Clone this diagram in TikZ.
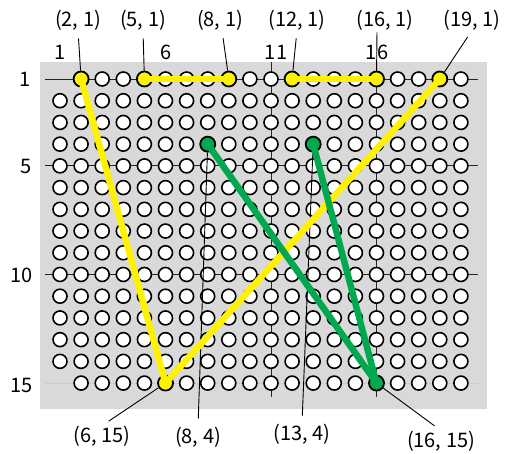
\documentclass[tikz,border=0pt]{standalone}
\usepackage{fontspec}
\setmainfont{Noto Sans CJK JP}
\definecolor{bgray}{RGB}{217,217,217}
\definecolor{wgreen}{RGB}{0,168,80}
\begin{document}
\begin{tikzpicture}[x=1pt,y=-1pt,
  hole/.style={circle,draw=black,fill=white,line width=1.6pt,minimum size=14pt,inner sep=0pt},
  ydot/.style={circle,draw=black,fill=yellow,line width=1.8pt,minimum size=15pt,inner sep=0pt},
  gdot/.style={circle,draw=black,fill=wgreen,line width=1.8pt,minimum size=15pt,inner sep=0pt},
  ywire/.style={draw=yellow,line width=6.5pt,line join=round},
  gwire/.style={draw=wgreen,line width=6.5pt,line join=round},
  lead/.style={draw=black,line width=0.9pt,shorten <=8pt},
  gridln/.style={draw=black!85,line width=0.8pt},
  faintln/.style={draw=black!20,line width=0.8pt},
  lbl/.style={font=\fontsize{20}{20}\selectfont,inner sep=0pt}]
\useasboundingbox (0,0) rectangle (509,454);
% coordinates of the holes
\foreach \r in {1,...,15}{
  \foreach \c in {1,...,20}{
    \coordinate (p\c-\r) at ({60+(\c-1)*21.1},{79+(\r-1)*21.72});
  }
}
% board
\fill[bgray] (40,62) rectangle (487,409);
% grid lines
\draw[gridln] ([xshift=-15pt]p1-1) -- ([xshift=17pt]p20-1);
\draw[gridln] ([xshift=-15pt]p1-5) -- ([xshift=17pt]p20-5);
\draw[gridln] ([xshift=-15pt]p1-10) -- ([xshift=17pt]p20-10);
\draw[faintln] ([xshift=-15pt]p1-15) -- ([xshift=17pt]p20-15);
\draw[gridln] ([yshift=17pt]p11-1) -- ([yshift=-14pt]p11-15);
\draw[gridln] ([yshift=17pt]p16-1) -- ([yshift=-14pt]p16-15);
% holes
\foreach \r in {2,...,14}{
  \foreach \c in {1,...,20}{
    \node[hole] (h\c-\r) at (p\c-\r) {};
  }
}
\foreach \r in {1,15}{
  \foreach \c in {2,...,20}{
    \node[hole] (h\c-\r) at (p\c-\r) {};
  }
}
% axis labels
\node[lbl] (c1) at (60,52) {1};
\node[lbl] (c6) at (166,52) {6};
\node[lbl] (c11) at (276,52) {11};
\node[lbl] (c16) at (377,52) {16};
\node[lbl] (r1) at (25,79) {1};
\node[lbl] (r5) at (26,167) {5};
\node[lbl] (r10) at (22,275) {10};
\node[lbl] (r15) at (22,385) {15};
% coordinate labels
\node[lbl] (t2) at (78,20) {(2, 1)};
\node[lbl] (t5) at (143,20) {(5, 1)};
\node[lbl] (t8) at (220,20) {(8, 1)};
\node[lbl] (t12) at (297,20) {(12, 1)};
\node[lbl] (t16) at (385,20) {(16, 1)};
\node[lbl] (t19) at (472,20) {(19, 1)};
\node[lbl] (b6) at (102,436) {(6, 15)};
\node[lbl] (b8) at (198,437) {(8, 4)};
\node[lbl] (b13) at (302,434) {(13, 4)};
\node[lbl] (b16) at (441,441) {(16, 15)};
% end points
\foreach \c/\r in {2/1,5/1,9/1,12/1,16/1,19/1,6/15}{
  \node[ydot] (y\c-\r) at (p\c-\r) {};
}
\foreach \c/\r in {8/4,13/4,16/15}{
  \node[gdot] (g\c-\r) at (p\c-\r) {};
}
% leaders
\draw[lead] (t2.south) -- (y2-1);
\draw[lead] (t5.south) -- (y5-1);
\draw[lead] ([xshift=2pt]t8.south) -- (y9-1);
\draw[lead] (t12.south) -- (y12-1);
\draw[lead,shorten <=2pt] ([xshift=-8pt]t16.south) -- (y16-1);
\draw[lead] (t19.south) -- (y19-1);
\draw[lead] (b6.north) -- (y6-15);
\draw[lead] (b8.north) -- (g8-4);
\draw[lead] (b13.north) -- (g13-4);
\draw[lead] (b16.north) -- (g16-15);
% wires
\draw[ywire] (y2-1.center) -- (y6-15.center) -- (y19-1.center);
\draw[ywire] (y5-1.center) -- (y9-1.center);
\draw[ywire] (y12-1.center) -- (y16-1.center);
\draw[gwire] (g8-4.center) -- (g16-15.center);
\draw[gwire] (g13-4.center) -- (g16-15.center);
\end{tikzpicture}
\end{document}
